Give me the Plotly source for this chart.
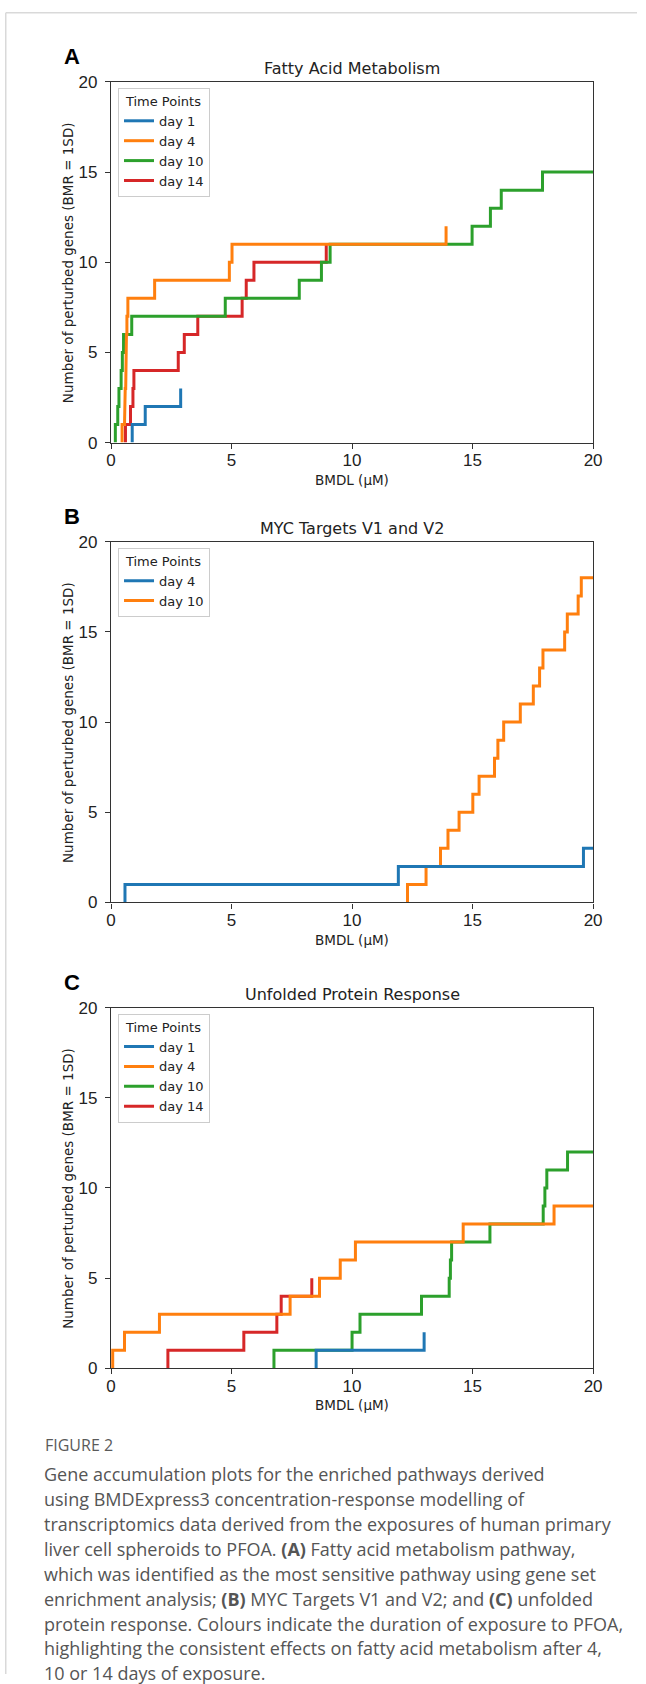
import plotly.graph_objects as go

W, H = 646, 1684

# ---------------- data: BMDL (µM) of each perturbed gene, sorted ----------------
# values > 20 are genes beyond the plotted range (only their continuation is visible)
days_A = ["day 1", "day 4", "day 10", "day 14"]
fa_day1 = [0.88, 1.42, 2.89]
fa_day4 = [0.46, 0.56, 0.59, 0.61, 0.63, 0.64, 0.66, 0.70, 1.81, 4.91, 5.02, 13.9]
fa_day10 = [0.18, 0.28, 0.33, 0.42, 0.47, 0.52, 0.86, 4.74, 7.81, 8.73, 9.09,
            14.98, 15.74, 16.19, 17.9, 20.6]
fa_day14 = [0.60, 0.81, 0.91, 0.95, 2.79, 3.04, 3.60, 5.44, 5.61, 5.93, 8.93]

days_B = ["day 4", "day 10"]
myc_day4 = [0.58, 11.92, 19.6, 20.7]
myc_day10 = [12.30, 13.07, 13.67, 13.98, 14.44, 15.01, 15.27, 15.91, 16.05, 16.29,
             16.98, 17.52, 17.78, 17.92, 18.82, 18.93, 19.38, 19.51, 20.8]

days_C = ["day 1", "day 4", "day 10", "day 14"]
upr_day1 = [8.51, 12.99]
upr_day4 = [0.07, 0.56, 2.01, 7.43, 8.65, 9.51, 10.14, 14.61, 18.38, 20.9]
upr_day10 = [6.76, 10.00, 10.33, 12.88, 14.03, 14.08, 14.13, 15.72, 17.93, 18.00,
             18.08, 18.94, 20.9]
upr_day14 = [2.36, 5.51, 6.88, 7.06, 8.33]

titles = ["Fatty Acid Metabolism", "MYC Targets V1 and V2", "Unfolded Protein Response"]
letters = ["A", "B", "C"]
x_ticks = [0, 5, 10, 15, 20]
y_ticks = [0, 5, 10, 15, 20]
x_label = "BMDL (µM)"
y_label = "Number of perturbed genes (BMR = 1SD)"
legend_title = "Time Points"

caption_head = "FIGURE 2"
caption_lines = [
    "Gene accumulation plots for the enriched pathways derived",
    "using BMDExpress3 concentration-response modelling of",
    "transcriptomics data derived from the exposures of human primary",
    "liver cell spheroids to PFOA. <b>(A)</b> Fatty acid metabolism pathway,",
    "which was identified as the most sensitive pathway using gene set",
    "enrichment analysis; <b>(B)</b> MYC Targets V1 and V2; and <b>(C)</b> unfolded",
    "protein response. Colours indicate the duration of exposure to PFOA,",
    "highlighting the consistent effects on fatty acid metabolism after 4,",
    "10 or 14 days of exposure.",
]

colors = {"day 1": "#1f77b4", "day 4": "#ff7f0e", "day 10": "#2ca02c", "day 14": "#d62728"}

panels = [
    dict(zip(days_A, [fa_day1, fa_day4, fa_day10, fa_day14])),
    dict(zip(days_B, [myc_day4, myc_day10])),
    dict(zip(days_C, [upr_day1, upr_day4, upr_day10, upr_day14])),
]
# B uses the default colour cycle (first series blue, second orange)
panel_colors = [
    [colors["day 1"], colors["day 4"], colors["day 10"], colors["day 14"]],
    [colors["day 1"], colors["day 4"]],
    [colors["day 1"], colors["day 4"], colors["day 10"], colors["day 14"]],
]

# ---------------- layout geometry (target picture pixels) ----------------
X0, X1 = 110.0, 590.7
tops = [82, 541, 1006]
PH = 360

# picture <- page mapping measured from earlier renders (picture = S*page + B)
SX, BX = 0.9755, 4.3
SY, BY = 0.9869, 9.2


def fx(t):
    return max(((t - BX) / SX) / W, 0.0)


def fy(t):
    return 1 - ((t - BY) / SY) / H


def steps(vals):
    xs, ys = [], []
    for i, v in enumerate(sorted(vals)):
        xs += [v, v]
        ys += [i, i + 1]
    return xs, ys


fig = go.Figure()
annotations = []
layout_axes = {}
DARK = "#222222"
LEG_FONT = 13

for p, (series, cols) in enumerate(zip(panels, panel_colors)):
    n = p + 1
    xa = "x" if n == 1 else f"x{n}"
    ya = "y" if n == 1 else f"y{n}"
    leg = "legend" if n == 1 else f"legend{n}"
    names = list(series.keys())
    # later series are drawn underneath (as in the figure's overlaps)
    for k in reversed(range(len(names))):
        name = names[k]
        xs, ys = steps(series[name])
        fig.add_trace(go.Scatter(
            x=xs, y=ys, mode="lines", name=name,
            line=dict(color=cols[k], width=3),
            xaxis=xa, yaxis=ya, legend=leg, legendrank=k + 1,
            hoverinfo="x+y",
        ))
    top = tops[p]
    bot = top + PH
    axis_common = dict(
        showline=True, linecolor="#333333", linewidth=1.2, mirror=True,
        ticks="outside", ticklen=5, tickwidth=1.1, tickcolor="#333333",
        showgrid=False, zeroline=False,
        tickfont=dict(family="Liberation Sans, Arial, sans-serif", size=17, color=DARK),
    )
    xkey = "xaxis" if n == 1 else f"xaxis{n}"
    ykey = "yaxis" if n == 1 else f"yaxis{n}"
    layout_axes[xkey] = dict(axis_common, domain=[fx(X0), fx(X1)], range=[0, 20],
                             tickvals=x_ticks, anchor=ya, ticklabelstandoff=-3)
    layout_axes[ykey] = dict(axis_common, domain=[fy(bot), fy(top)], range=[0, 20],
                             tickvals=y_ticks, anchor=xa, ticklabelstandoff=4,
                             tickangle=0)
    layout_axes[leg] = dict(
        x=fx(117), y=fy(top + 6), xanchor="left", yanchor="top",
        bgcolor="rgba(255,255,255,0.85)", bordercolor="#cccccc", borderwidth=1,
        font=dict(family="DejaVu Sans", size=LEG_FONT, color=DARK),
        title=dict(text=legend_title, side="top center",
                   font=dict(family="DejaVu Sans", size=LEG_FONT, color=DARK)),
        tracegroupgap=0, itemclick=False, itemdoubleclick=False,
    )
    cx = (X0 + X1) / 2
    annotations += [
        dict(text=letters[p], x=fx(61), y=fy(top - 25), xanchor="left", yanchor="middle",
             showarrow=False, xref="paper", yref="paper",
             font=dict(family="Liberation Sans, Arial", size=22, color="#000000", weight="bold")),
        dict(text=titles[p], x=fx(cx), y=fy(top - 13), xanchor="center", yanchor="middle",
             showarrow=False, xref="paper", yref="paper",
             font=dict(family="DejaVu Sans", size=16, color=DARK)),
        dict(text=x_label, x=fx(cx), y=fy(bot + 37), xanchor="center", yanchor="middle",
             showarrow=False, xref="paper", yref="paper",
             font=dict(family="DejaVu Sans", size=13.5, color=DARK)),
        dict(text=y_label, x=fx(67), y=fy((top + bot) / 2), xanchor="center", yanchor="middle",
             textangle=-90, showarrow=False, xref="paper", yref="paper",
             font=dict(family="DejaVu Sans", size=13.5, color=DARK)),
    ]

annotations.append(dict(
    text=caption_head, x=fx(42), y=fy(1443), xanchor="left", yanchor="middle",
    showarrow=False, xref="paper", yref="paper",
    font=dict(family="Open Sans", size=16, color="#5a5a5a")))
for i, line in enumerate(caption_lines):
    annotations.append(dict(
        text=line, x=fx(41), y=fy(1472 + 24.8 * i), xanchor="left", yanchor="middle",
        showarrow=False, xref="paper", yref="paper",
        font=dict(family="Open Sans", size=18, color="#555555")))

shapes = [
    dict(type="line", xref="paper", yref="paper", x0=0.0012, x1=1.0, y0=fy(13), y1=fy(13),
         line=dict(color="#d9d9d9", width=1.5)),
    dict(type="line", xref="paper", yref="paper", x0=0.0012, x1=0.0012, y0=fy(13), y1=0,
         line=dict(color="#d9d9d9", width=1.5)),
]

fig.update_layout(
    width=W, height=H, autosize=False,
    margin=dict(l=0, r=0, t=0, b=0),
    paper_bgcolor="white", plot_bgcolor="white",
    annotations=annotations, shapes=shapes,
    **layout_axes,
)

fig.write_html("out.html", config={"displayModeBar": False},
               post_script="document.body.style.margin='0px';")
